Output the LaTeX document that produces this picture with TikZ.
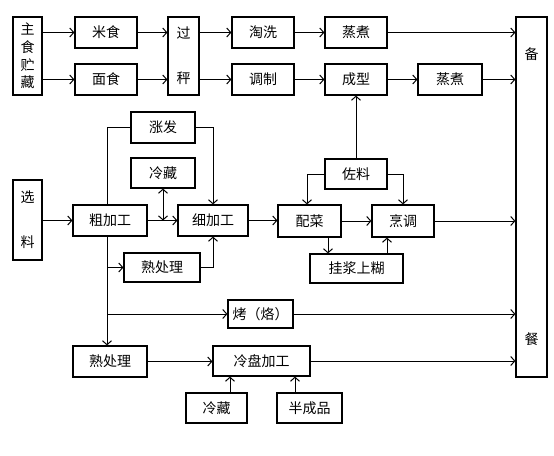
\documentclass[tikz,border=0pt]{standalone}
\usepackage{fontspec}
\newfontfamily\cjk{Noto Sans CJK SC}
\usetikzlibrary{arrows.meta,calc}
\begin{document}
\begin{tikzpicture}[x=1pt,y=-1pt,
  box/.style={draw,line width=1.2pt,inner sep=0pt,font=\cjk\fontsize{14}{16}\selectfont,align=center},
  con/.style={line width=0.6pt},
  arr/.style={con,-{Straight Barb[length=4pt,width=9pt,line width=1pt]}},
  darr/.style={con,{Straight Barb[length=4pt,width=9pt,line width=1pt]}-{Straight Barb[length=4pt,width=9pt,line width=1pt]}}]
\useasboundingbox (0,0) rectangle (554,455);
% top rows
\node[box,minimum width=29pt,minimum height=78pt] (zs) at (27.5,56) {主\\[1.7pt]食\\[1.7pt]贮\\[1.7pt]藏};
\node[box,minimum width=62pt,minimum height=31pt] (mi) at (106,32.5) {米食};
\node[box,minimum width=62pt,minimum height=31pt] (mian) at (106,79.5) {面食};
\node[box,minimum width=31pt,minimum height=78pt] (gc) at (183.5,56) {过\\[29pt]秤};
\node[box,minimum width=62pt,minimum height=31pt] (tx) at (263,32.5) {淘洗};
\node[box,minimum width=62pt,minimum height=31pt] (tz) at (263,79.5) {调制};
\node[box,minimum width=62pt,minimum height=31pt] (zz1) at (356,32.5) {蒸煮};
\node[box,minimum width=62pt,minimum height=31pt] (cx) at (356,79.5) {成型};
\node[box,minimum width=64pt,minimum height=31pt] (zz2) at (450,79.5) {蒸煮};
\node[box,minimum width=31pt,minimum height=360pt] (bc) at (531.5,197) {备\\[269pt]餐};
% middle
\node[box,minimum width=64pt,minimum height=31pt] (zf) at (163,127.5) {涨发};
\node[box,minimum width=64pt,minimum height=30pt] (lc1) at (163,173) {冷藏};
\node[box,minimum width=29pt,minimum height=80pt] (xl) at (27.5,220) {选\\[29pt]料};
\node[box,minimum width=74pt,minimum height=31pt] (cjg) at (110,220.5) {粗加工};
\node[box,minimum width=70pt,minimum height=31pt] (xjg) at (213,220.5) {细加工};
\node[box,minimum width=76pt,minimum height=29pt] (scl1) at (162,267.5) {熟处理};
\node[box,minimum width=62pt,minimum height=30pt] (zl) at (356,174) {佐料};
\node[box,minimum width=63pt,minimum height=32pt] (pc) at (309.5,221) {配菜};
\node[box,minimum width=62pt,minimum height=32pt] (pt) at (403,221) {烹调};
\node[box,minimum width=93pt,minimum height=29pt] (gj) at (356.5,268.5) {挂浆上糊};
% bottom
\node[box,minimum width=65pt,minimum height=28pt] (kao) at (260.5,314) {烤（烙）};
\node[box,minimum width=74pt,minimum height=31pt] (scl2) at (110,361.5) {熟处理};
\node[box,minimum width=97pt,minimum height=30pt] (lp) at (261.5,361) {冷盘加工};
\node[box,minimum width=61pt,minimum height=30pt] (lc2) at (216.5,408) {冷藏};
\node[box,minimum width=65pt,minimum height=30pt] (bcp) at (309.5,408) {半成品};
\coordinate (v) at (107,0);
% connectors top
\draw[arr] (zs.east |- mi.west) -- (mi.west);
\draw[arr] (zs.east |- mian.west) -- (mian.west);
\draw[arr] (mi.east) -- (gc.west |- mi.east);
\draw[arr] (mian.east) -- (gc.west |- mian.east);
\draw[arr] (gc.east |- tx.west) -- (tx.west);
\draw[arr] (gc.east |- tz.west) -- (tz.west);
\draw[arr] (tx.east) -- (zz1.west);
\draw[arr] (zz1.east) -- (bc.west |- zz1.east);
\draw[arr] (tz.east) -- (cx.west);
\draw[arr] (cx.east) -- (zz2.west);
\draw[arr] (zz2.east) -- (bc.west |- zz2.east);
\draw[arr] (zl.north) -- (cx.south);
% middle connectors
\draw[arr] (zl.west) -| ([xshift=-2.5pt]pc.north);
\draw[arr] (zl.east) -| (pt.north);
\draw[arr] (xl.east |- cjg.west) -- (cjg.west);
\draw[arr] (cjg.east) -- (xjg.west);
\draw[darr] (lc1.south) -- (lc1.south |- cjg.east);
\draw[con] (cjg.north -| v) |- (zf.west);
\draw[arr] (zf.east) -| (xjg.north);
\draw[arr] (cjg.south -| v) -- (scl2.north -| v);
\draw[arr] (v |- scl1.west) -- (scl1.west);
\draw[arr] (v |- kao.west) -- (kao.west);
\draw[arr] (scl1.east) -| (xjg.south);
\draw[arr] (xjg.east) -- (pc.west |- xjg.east);
\draw[arr] (pc.east |- pt.west) -- (pt.west);
\draw[arr] (pt.east) -- (bc.west |- pt.east);
\draw[arr] ([xshift=18.5pt]pc.south) -- ([xshift=18.5pt]pc.south |- gj.north);
\draw[arr] ([xshift=-16pt]pt.south |- gj.north) -- ([xshift=-16pt]pt.south);
% bottom connectors
\draw[arr] (kao.east) -- (bc.west |- kao.east);
\draw[arr] (scl2.east) -- (lp.west |- scl2.east);
\draw[arr] (lp.east) -- (bc.west |- lp.east);
\draw[arr] ([xshift=13.5pt]lc2.north) -- ([xshift=13.5pt]lc2.north |- lp.south);
\draw[arr] ([xshift=-14.5pt]bcp.north) -- ([xshift=-14.5pt]bcp.north |- lp.south);
\end{tikzpicture}
\end{document}
